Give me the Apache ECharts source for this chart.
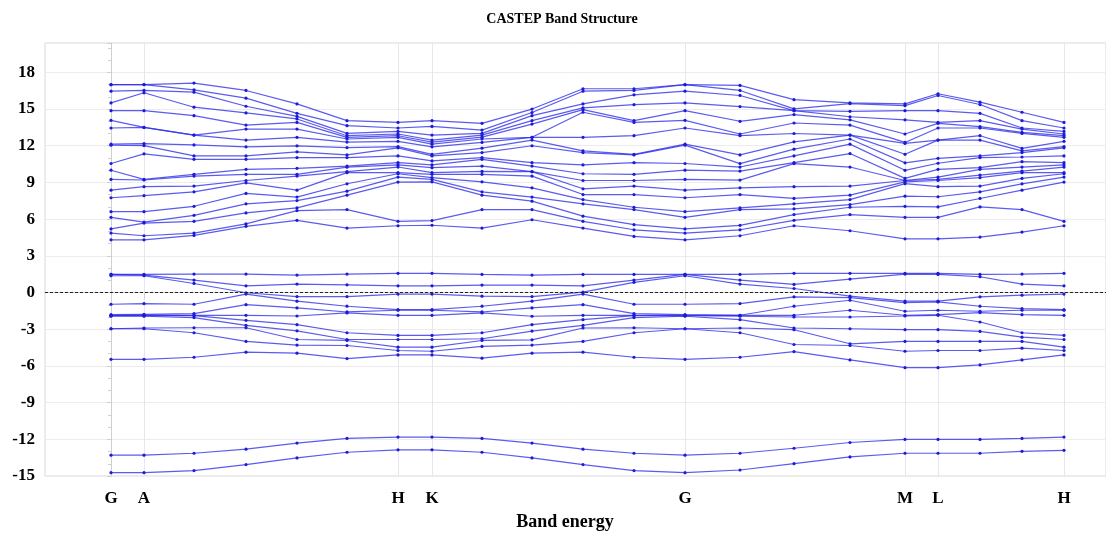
<!DOCTYPE html>
<html>
<head>
<meta charset="utf-8">
<script src="https://cdn.jsdelivr.net/npm/echarts@6/dist/echarts.min.js"></script>
<style>
  html, body { margin: 0; padding: 0; background: #fff; }
  #chart { width: 1106px; height: 535px; }
</style>
</head>
<body>
<div id="chart"></div>
<script>
// k-path coordinate of every sampled k-point (arbitrary path-length units)
const kPath = [0, 33, 83, 135, 186, 236, 287, 321, 371, 421, 472, 523, 574, 629, 683, 739, 794, 827, 869, 911, 953];

// high-symmetry points along the path
const hsymPos = [0, 33, 287, 321, 574, 794, 827, 953];
const hsymNames = ['G', 'A', 'H', 'K', 'G', 'M', 'L', 'H'];

// y-axis ticks (eV)
const yTicks = [-15, -12, -9, -6, -3, 0, 3, 6, 9, 12, 15, 18];

// two deep semicore bands
const deepUpper = [-13.30, -13.30, -13.14, -12.81, -12.31, -11.93, -11.82, -11.82, -11.93, -12.31, -12.81, -13.14, -13.30, -13.14, -12.73, -12.26, -12.01, -12.01, -12.01, -11.93, -11.82];
const deepLower = [-14.73, -14.73, -14.56, -14.07, -13.52, -13.06, -12.86, -12.86, -13.06, -13.52, -14.07, -14.56, -14.73, -14.51, -13.99, -13.44, -13.14, -13.14, -13.14, -12.98, -12.90];

// valence eigenvalues at each k-point (11 bands, eV)
const valenceAtK = [
  [1.48, 1.48, 1.37, -0.96, -1.81, -1.86, -1.89, -1.94, -2.96, -2.96, -5.46],
  [1.48, 1.43, 1.37, -0.90, -1.78, -1.84, -1.89, -1.94, -2.90, -2.96, -5.46],
  [1.51, 1.02, 0.74, -0.96, -1.73, -1.86, -1.89, -2.05, -2.88, -3.29, -5.29],
  [1.51, 0.55, -0.02, -0.13, -0.99, -1.86, -2.27, -2.69, -2.88, -4.00, -4.88],
  [1.43, 0.69, -0.33, -0.71, -1.26, -1.92, -2.63, -3.13, -3.84, -4.30, -4.96],
  [1.51, 0.63, -0.33, -1.12, -1.59, -1.67, -3.29, -3.84, -3.92, -4.33, -5.40],
  [1.57, 0.55, -0.13, -1.40, -1.45, -1.86, -3.51, -3.84, -4.47, -4.74, -5.10],
  [1.57, 0.55, -0.13, -1.40, -1.45, -1.86, -3.51, -3.84, -4.47, -4.80, -5.10],
  [1.48, 0.61, -0.30, -1.12, -1.59, -1.67, -3.29, -3.78, -3.92, -4.41, -5.37],
  [1.43, 0.61, -0.33, -0.71, -1.26, -1.94, -2.63, -3.15, -3.87, -4.30, -4.96],
  [1.48, 0.55, 0.03, -0.13, -0.99, -1.86, -2.22, -2.69, -2.90, -4.00, -4.88],
  [1.48, 1.02, 0.83, -0.96, -1.73, -1.86, -1.89, -2.05, -2.88, -3.29, -5.29],
  [1.48, 1.48, 1.37, -0.96, -1.81, -1.86, -1.89, -1.94, -2.96, -2.96, -5.46],
  [1.48, 1.02, 0.69, -0.90, -1.86, -1.86, -1.94, -2.22, -2.90, -3.29, -5.29],
  [1.57, 0.66, 0.33, -0.35, -1.12, -1.86, -2.00, -2.90, -3.04, -4.25, -4.83],
  [1.57, 1.10, -0.30, -0.41, -0.63, -1.45, -2.00, -2.96, -4.19, -4.33, -5.51],
  [1.57, 1.51, -0.71, -0.82, -1.53, -1.86, -1.92, -3.04, -4.00, -4.80, -6.14],
  [1.57, 1.48, -0.71, -0.77, -1.45, -1.81, -1.86, -3.04, -4.00, -4.74, -6.14],
  [1.48, 1.29, -0.35, -1.12, -1.53, -1.64, -2.41, -3.18, -4.00, -4.74, -5.92],
  [1.51, 0.69, -0.22, -1.31, -1.45, -1.81, -3.29, -3.65, -4.00, -4.55, -5.51],
  [1.57, 0.55, -0.13, -1.40, -1.45, -1.86, -3.51, -3.84, -4.47, -4.74, -5.10]
];

// conduction eigenvalues at each k-point (19 bands, eV)
const conductionAtK = [
  [16.99, 16.99, 16.46, 15.50, 14.87, 14.08, 13.45, 12.13, 12.05, 10.55, 10.00, 9.25, 8.37, 7.75, 6.61, 6.15, 5.20, 4.86, 4.31],
  [17.00, 17.00, 16.52, 16.33, 14.87, 13.50, 13.50, 12.18, 12.01, 11.34, 9.25, 9.20, 8.65, 7.92, 6.61, 5.75, 5.68, 4.64, 4.31],
  [17.12, 16.57, 16.38, 15.15, 14.46, 12.87, 12.87, 12.07, 11.17, 10.89, 9.66, 9.52, 8.70, 8.23, 7.05, 6.31, 5.82, 4.86, 4.67],
  [16.52, 15.89, 15.23, 14.68, 13.69, 13.36, 12.46, 11.91, 11.17, 10.89, 10.07, 9.66, 9.16, 8.97, 8.10, 7.25, 6.51, 5.61, 5.41],
  [15.42, 14.65, 14.40, 14.19, 13.91, 13.36, 12.69, 11.99, 11.50, 11.03, 10.15, 9.66, 9.52, 8.37, 7.80, 7.52, 6.92, 6.70, 5.90],
  [14.05, 13.64, 13.01, 12.82, 12.69, 12.55, 12.30, 11.85, 11.25, 11.03, 10.34, 10.25, 9.88, 9.80, 8.89, 8.29, 7.96, 6.78, 5.27],
  [13.91, 13.45, 13.17, 12.96, 12.82, 12.69, 12.36, 11.93, 11.83, 11.17, 10.62, 10.43, 10.26, 9.80, 9.71, 9.44, 9.03, 5.82, 5.46],
  [14.05, 13.58, 12.87, 12.46, 12.30, 12.13, 11.91, 11.30, 11.17, 10.76, 10.43, 10.21, 9.80, 9.66, 9.40, 9.25, 9.05, 5.88, 5.50],
  [13.83, 13.28, 13.01, 12.87, 12.70, 12.55, 12.27, 11.80, 11.44, 11.03, 10.89, 10.34, 9.90, 9.66, 9.05, 8.23, 7.96, 6.78, 5.27],
  [15.00, 14.72, 14.46, 14.05, 13.77, 12.69, 12.69, 12.46, 12.00, 10.62, 10.34, 9.88, 9.88, 9.52, 8.56, 7.80, 7.47, 6.78, 5.95],
  [16.66, 16.46, 15.42, 15.09, 14.95, 14.74, 12.69, 11.58, 11.44, 10.43, 9.71, 9.16, 8.48, 8.01, 7.60, 7.25, 6.24, 5.82, 5.27],
  [16.66, 16.52, 16.16, 15.36, 14.05, 13.91, 12.82, 11.30, 11.25, 10.62, 9.66, 9.16, 8.70, 8.01, 6.97, 6.78, 5.55, 5.13, 4.59],
  [16.99, 16.99, 16.46, 15.50, 14.87, 14.08, 13.45, 12.13, 12.05, 10.55, 10.00, 9.25, 8.37, 7.75, 6.61, 6.15, 5.20, 4.86, 4.31],
  [16.93, 16.52, 16.11, 15.20, 14.00, 12.96, 12.82, 11.25, 10.54, 10.26, 9.93, 9.19, 8.56, 8.01, 6.92, 6.78, 5.49, 5.13, 4.64],
  [15.77, 15.01, 14.87, 14.87, 14.55, 13.86, 13.00, 12.32, 11.72, 11.17, 10.62, 10.54, 8.65, 7.69, 7.25, 6.84, 6.37, 5.90, 5.46],
  [15.50, 15.45, 14.81, 14.37, 14.12, 13.69, 12.87, 12.87, 12.55, 12.13, 11.36, 10.26, 8.70, 7.96, 7.60, 7.19, 6.97, 6.37, 5.05],
  [15.42, 15.28, 14.87, 14.12, 12.96, 12.27, 12.19, 11.30, 10.60, 9.99, 9.33, 9.16, 9.16, 9.05, 8.90, 7.88, 7.05, 6.15, 4.39],
  [16.25, 16.11, 14.87, 13.91, 13.83, 13.45, 12.46, 12.46, 10.97, 10.57, 10.07, 9.44, 9.25, 9.16, 8.65, 7.83, 7.00, 6.15, 4.39],
  [15.56, 15.37, 14.65, 14.05, 13.56, 13.45, 12.82, 12.46, 11.17, 11.03, 10.21, 10.07, 9.60, 9.39, 8.70, 8.23, 7.69, 7.00, 4.53],
  [14.74, 14.05, 13.45, 13.36, 13.09, 13.01, 11.78, 11.58, 11.44, 11.08, 10.70, 10.26, 9.93, 9.80, 9.33, 8.89, 8.37, 6.78, 4.94],
  [13.91, 13.45, 13.17, 12.96, 12.82, 12.69, 12.36, 11.93, 11.83, 11.17, 10.62, 10.43, 10.26, 9.80, 9.71, 9.44, 9.03, 5.82, 5.46]
];

// turn per-k-point eigenvalue lists into one polyline per band
function bandsFromColumns(cols) {
  const nb = cols[0].length;
  const out = [];
  for (let b = 0; b < nb; b++) {
    out.push(kPath.map((k, i) => [k, cols[i][b]]));
  }
  return out;
}

const bands = [
  kPath.map((k, i) => [k, deepUpper[i]]),
  kPath.map((k, i) => [k, deepLower[i]]),
  ...bandsFromColumns(valenceAtK),
  ...bandsFromColumns(conductionAtK)
];

const serifFont = '"Liberation Serif", "Times New Roman", "DejaVu Serif", serif';
const lineColor = 'rgba(45, 45, 235, 0.78)';
const dotColor = '#1c1cd6';

const series = bands.map((pts, idx) => ({
  type: 'line',
  name: 'band ' + (idx + 1),
  data: pts,
  symbol: 'circle',
  symbolSize: 3.2,
  showSymbol: true,
  itemStyle: { color: dotColor },
  lineStyle: { color: lineColor, width: 1.2 },
  silent: true,
  animation: false,
  z: 3
}));

// Fermi level reference line
series[0].markLine = {
  silent: true,
  symbol: ['none', 'none'],
  label: { show: false },
  lineStyle: { color: '#222', type: [3, 2], width: 1 },
  data: [{ yAxis: 0 }],
  animation: false
};

const chart = echarts.init(document.getElementById('chart'), null, { renderer: 'canvas' });

chart.setOption({
  backgroundColor: '#ffffff',
  animation: false,
  title: [
    {
      text: 'CASTEP Band Structure',
      left: 557,
      top: 7,
      textAlign: 'center',
      textStyle: { fontFamily: serifFont, fontWeight: 'bold', fontSize: 14, color: '#000' }
    },
    {
      text: 'Band energy',
      left: 560,
      top: 508,
      textAlign: 'center',
      textStyle: { fontFamily: serifFont, fontWeight: 'bold', fontSize: 18, color: '#000' }
    }
  ],
  grid: {
    left: 45,
    right: 0,
    top: 43,
    bottom: 59,
    show: true,
    borderColor: '#d9d9d9',
    borderWidth: 1
  },
  xAxis: {
    type: 'value',
    min: -66,
    max: 995,
    axisLine: { show: true, lineStyle: { color: '#cfcfcf', width: 1 } },
    axisTick: {
      show: true,
      customValues: hsymPos,
      length: 6,
      lineStyle: { color: '#cfcfcf' }
    },
    axisLabel: {
      customValues: hsymPos,
      margin: 14,
      fontFamily: serifFont,
      fontWeight: 'bold',
      fontSize: 17,
      color: '#000',
      formatter: (v) => {
        const i = hsymPos.indexOf(v);
        return i >= 0 ? hsymNames[i] : '';
      }
    },
    splitLine: { show: true, lineStyle: { color: '#e6e6ee', width: 1 } }
  },
  yAxis: {
    type: 'value',
    min: yTicks[0],
    max: 20.4,
    interval: 3,
    axisLine: { show: true, lineStyle: { color: '#cfcfcf', width: 1 } },
    axisTick: { show: true, length: 4, lineStyle: { color: '#cfcfcf' } },
    minorTick: { show: true, splitNumber: 3, length: 3, lineStyle: { color: '#cfcfcf' } },
    axisLabel: {
      margin: 10,
      fontFamily: serifFont,
      fontWeight: 'bold',
      fontSize: 17,
      color: '#000',
      formatter: (v) => (yTicks.indexOf(v) >= 0 ? String(v) : '')
    },
    splitLine: { show: true, lineStyle: { color: '#ececec', width: 1 } }
  },
  series: series
});
</script>
</body>
</html>
